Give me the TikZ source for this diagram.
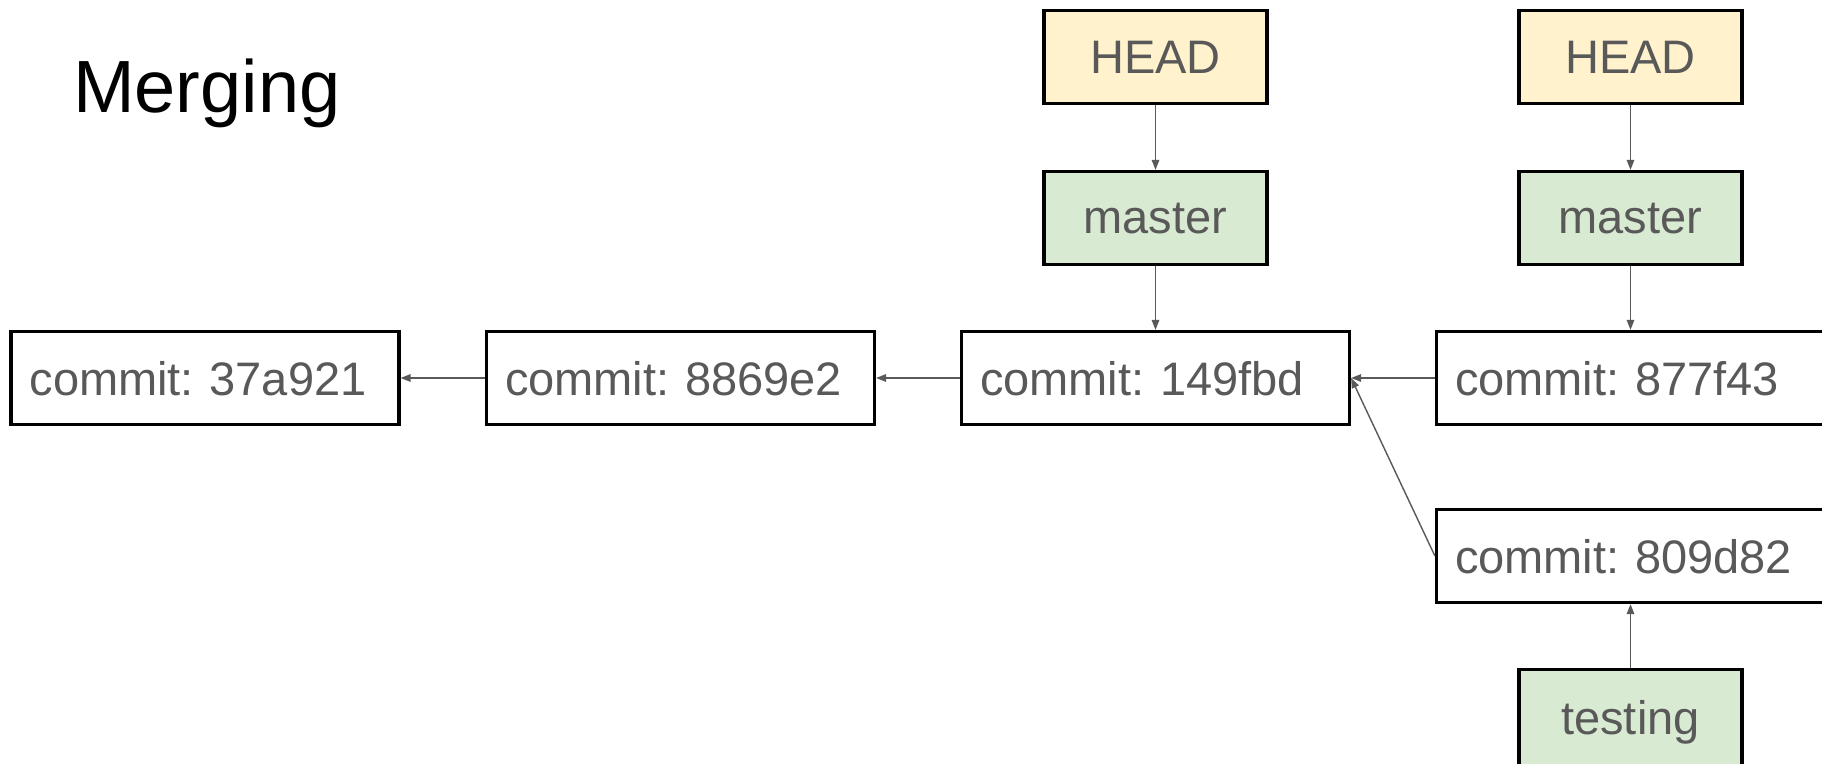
\documentclass[tikz,border=0pt]{standalone}
\usepackage{fontspec}
\setmainfont{Liberation Sans}
\usetikzlibrary{arrows.meta}
\frenchspacing
\definecolor{txtgray}{HTML}{595959}
\definecolor{linegray}{HTML}{595959}
\definecolor{headfill}{HTML}{FFF2CC}
\definecolor{branchfill}{HTML}{D9EAD3}
\begin{document}
\begin{tikzpicture}[x=1pt,y=-1pt,
  box/.style={draw=black, line width=3.2pt, minimum height=93pt, text depth=0pt,
    font=\fontsize{47}{56}\selectfont\frenchspacing, text=txtgray, inner ysep=0pt},
  commitbox/.style={box, fill=white, text width=351pt, align=left, inner xsep=18.5pt},
  headbox/.style={box, fill=headfill, minimum width=223pt, inner xsep=0pt},
  branchbox/.style={box, fill=branchfill, minimum width=223pt, inner xsep=0pt},
  conn/.style={draw=linegray, line width=1.4pt, -{Triangle[length=10pt,width=7.5pt]}}
]
\useasboundingbox (0,0) rectangle (1822,763);
\fill[white] (0,0) rectangle (1822,763);

\node[anchor=base west, inner sep=0pt, font=\fontsize{74}{88}\selectfont, text=black] (title) at (73,112) {Merging};

\node[commitbox] (c1) at (205,378) {commit: 37a921};
\node[commitbox] (c2) at (680.5,378) {commit: 8869e2};
\node[commitbox] (c3) at (1155.5,378) {commit: 149fbd};
\node[commitbox] (c4) at (1630.5,378) {commit: 877f43};
\node[commitbox] (c5) at (1630.5,556) {commit: 809d82};

\node[headbox] (h1) at (1155.5,57) {HEAD};
\node[branchbox] (m1) at (1155.5,218) {master};
\node[headbox] (h2) at (1630.5,57) {HEAD};
\node[branchbox] (m2) at (1630.5,218) {master};
\node[branchbox, minimum height=96pt] (t) at (1630.5,717.5) {testing};

\draw[conn] (h1.south) -- (m1.north);
\draw[conn] (m1.south) -- (c3.north);
\draw[conn] (h2.south) -- (m2.north);
\draw[conn] (m2.south) -- (c4.north);
\draw[conn] (c2.west) -- (c1.east);
\draw[conn] (c3.west) -- (c2.east);
\draw[conn] (c4.west) -- (c3.east);
\draw[conn] (c5.west) -- (c3.east);
\draw[conn] (t.north) -- (c5.south);
\end{tikzpicture}
\end{document}
